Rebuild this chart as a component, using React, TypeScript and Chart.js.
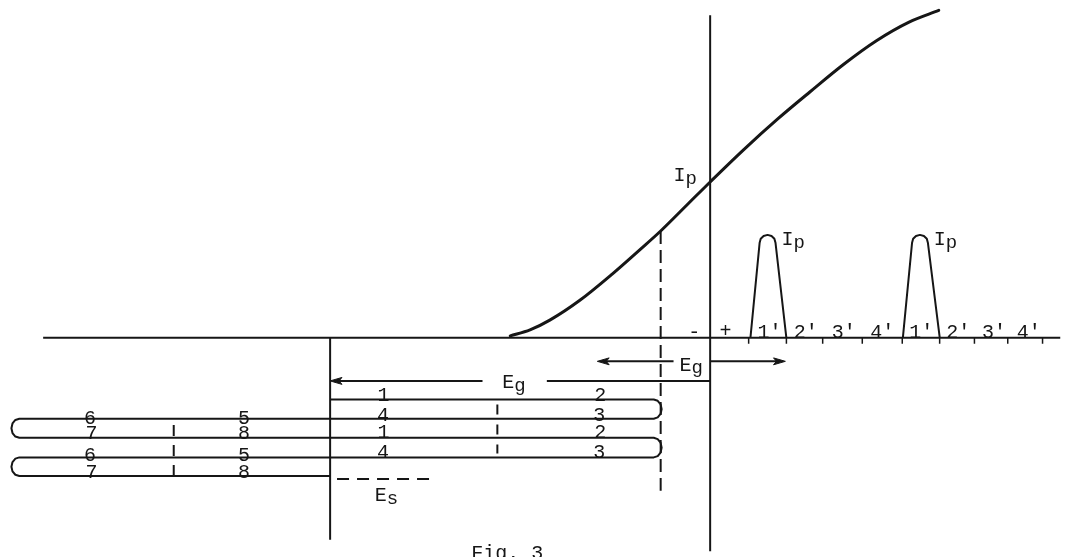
import React, { useEffect, useRef } from "react";
import { Chart, registerables } from "chart.js";

Chart.register(...registerables);

// Diagram units: x = grid-voltage steps (1 unit = one tick step), y = plate-current units
const X_MIN = -19.037;
const X_MAX = 9.465;
const Y_MIN = -5.829;
const Y_MAX = 9.064;

const INK = "#161616";

// Ip vs Eg characteristic curve
const curveGrid = [-5.401, -4.866, -4.332, -3.529, -2.647, -1.925, -1.337, -0.588, 0, 0.909, 1.818, 2.701, 3.61, 4.492, 5.374, 6.176];
const curvePlate = [0.053, 0.214, 0.481, 1.016, 1.738, 2.38, 2.914, 3.663, 4.251, 5.134, 5.963, 6.711, 7.46, 8.102, 8.61, 8.93];

// Plate-current pulses
const pulse1X = [1.088, 1.337, 1.366, 1.444, 1.551, 1.658, 1.735, 1.765, 2.059];
const pulse1Y = [0, 2.594, 2.701, 2.778, 2.807, 2.778, 2.701, 2.594, 0];
const pulse2X = [5.206, 5.455, 5.484, 5.561, 5.668, 5.775, 5.853, 5.882, 6.203];
const pulse2Y = [0, 2.594, 2.701, 2.778, 2.807, 2.778, 2.701, 2.594, 0];

// Time ticks on the axis (1' 2' 3' 4' 1' 2' 3' 4')
const tickX = [1.04, 2.06, 3.04, 4.11, 5.19, 6.2, 7.14, 8.04, 8.98];
const tickY = [-0.08, -0.08, -0.08, -0.08, -0.08, -0.08, -0.08, -0.08, -0.08];

// Sweep path (serpentine)
const loopX = [
  -10.267,
  -1.524, -1.417, -1.339, -1.31, -1.339, -1.417, -1.524,
  -18.663, -18.77, -18.848, -18.877, -18.848, -18.77, -18.663,
  -1.524, -1.417, -1.339, -1.31, -1.339, -1.417, -1.524,
  -18.663, -18.77, -18.848, -18.877, -18.848, -18.77, -18.663,
  -10.267,
];
const loopY = [
  -1.684,
  -1.684, -1.719, -1.814, -1.945, -2.076, -2.171, -2.206,
  -2.206, -2.241, -2.336, -2.467, -2.598, -2.693, -2.727,
  -2.727, -2.763, -2.861, -2.995, -3.129, -3.227, -3.262,
  -3.262, -3.296, -3.389, -3.516, -3.643, -3.736, -3.77,
  -3.77,
];

// Axes and straight lines
const hAxisX = [-18.02, 9.465];
const hAxisY = [0, 0];
const vAxisX = [0, 0];
const vAxisY = [8.797, -5.829];
const esLineX = [-10.267, -10.267];
const esLineY = [0, -5.508];

// Dashed lines
const dashOpX = [-1.337, -1.337];
const dashOpY = [2.914, -4.171];
const dashMidX = [-5.749, -5.749];
const dashMidY = [-1.818, -3.155];
const dashLeftX = [-14.492, -14.492];
const dashLeftY = [-2.38, -3.743];
const esDashX = [-10.08, -7.54];
const esDashY = [-3.85, -3.85];

// Eg arrows
const egUpLeftX = [-0.989, -2.85];
const egUpLeftY = [-0.642, -0.642];
const egUpRightX = [0, 1.84];
const egUpRightY = [-0.642, -0.642];
const egLowLeftX = [-6.15, -10.07];
const egLowLeftY = [-1.176, -1.176];
const egLowRightX = [-4.412, 0];
const egLowRightY = [-1.176, -1.176];

const headUpLeftX = [-3.048, -2.728, -2.808, -2.728, -3.048];
const headUpLeftY = [-0.642, -0.548, -0.642, -0.736, -0.642];
const headUpRightX = [2.032, 1.712, 1.792, 1.712, 2.032];
const headUpRightY = [-0.642, -0.548, -0.642, -0.736, -0.642];
const headLowX = [-10.267, -9.947, -10.027, -9.947, -10.267];
const headLowY = [-1.176, -1.082, -1.176, -1.27, -1.176];

// Labels on the main axis
const axisText = ["-", "+", "1'", "2'", "3'", "4'", "1'", "2'", "3'", "4'"];
const axisTextX = [-0.428, 0.414, 1.6, 2.58, 3.61, 4.65, 5.7, 6.7, 7.67, 8.61];
const axisTextY = [0.241, 0.267, 0.254, 0.254, 0.254, 0.254, 0.254, 0.254, 0.254, 0.254];

// Labels on the sweep path
const loopText = ["1", "2", "4", "3", "1", "2", "4", "3", "6", "5", "7", "8", "6", "5", "7", "8"];
const loopTextX = [-8.824, -2.968, -8.837, -2.995, -8.824, -2.968, -8.837, -2.995, -16.751, -12.594, -16.711, -12.594, -16.751, -12.594, -16.711, -12.594];
const loopTextY = [-1.471, -1.471, -2.005, -2.005, -2.487, -2.487, -3.035, -3.035, -2.086, -2.086, -2.5, -2.5, -3.102, -3.102, -3.583, -3.583];

// Symbols with subscripts
const symMain = ["I", "I", "I", "E", "E", "E"];
const symSub = ["p", "p", "p", "g", "g", "s"];
const symX = [-0.99, 1.925, 6.043, -0.829, -5.615, -9.064];
const symY = [4.519, 2.781, 2.781, -0.642, -1.123, -4.198];

const captionText = "Fig. 3";
const captionX = -5.48;
const captionY = -5.79;

const FONT = '20px "Liberation Mono", "Courier New", monospace';
const SUB_FONT = '19px "Liberation Mono", "Courier New", monospace';
const TEXT_DY = 4; // visual centring of glyphs on the 'middle' baseline

const pts = (xs: number[], ys: number[]) => xs.map((x, i) => ({ x, y: ys[i] }));

const lineDs = (xs: number[], ys: number[], width: number, extra: any = {}) => ({
  data: pts(xs, ys),
  showLine: true,
  borderColor: INK,
  backgroundColor: INK,
  borderWidth: width,
  pointRadius: 0,
  tension: 0,
  fill: false,
  borderCapStyle: "butt",
  ...extra,
});

const labelPlugin = {
  id: "diagramLabels",
  afterDatasetsDraw(chart: any) {
    const { ctx } = chart;
    const sx = chart.scales.x;
    const sy = chart.scales.y;
    ctx.save();
    ctx.fillStyle = INK;
    ctx.font = FONT;
    ctx.textAlign = "center";
    ctx.textBaseline = "middle";
    axisText.forEach((t, i) => {
      ctx.fillText(t, sx.getPixelForValue(axisTextX[i]), sy.getPixelForValue(axisTextY[i]) + TEXT_DY);
    });
    loopText.forEach((t, i) => {
      ctx.fillText(t, sx.getPixelForValue(loopTextX[i]), sy.getPixelForValue(loopTextY[i]) + TEXT_DY);
    });
    ctx.fillText(captionText, sx.getPixelForValue(captionX), sy.getPixelForValue(captionY) + TEXT_DY);
    ctx.textAlign = "left";
    symMain.forEach((t, i) => {
      const px = sx.getPixelForValue(symX[i]);
      const py = sy.getPixelForValue(symY[i]) + TEXT_DY;
      ctx.font = FONT;
      ctx.fillText(t, px, py);
      const w = ctx.measureText(t).width;
      ctx.font = SUB_FONT;
      ctx.fillText(symSub[i], px + w, py + 3);
    });
    ctx.restore();
  },
};

export default function App() {
  const ref = useRef<HTMLCanvasElement | null>(null);

  useEffect(() => {
    if (!ref.current) return;
    const datasets: any[] = [
      lineDs(hAxisX, hAxisY, 2),
      lineDs(vAxisX, vAxisY, 2),
      lineDs(esLineX, esLineY, 2),
      lineDs(curveGrid, curvePlate, 3, { cubicInterpolationMode: "monotone", borderCapStyle: "round" }),
      lineDs(pulse1X, pulse1Y, 2, { borderJoinStyle: "round" }),
      lineDs(pulse2X, pulse2Y, 2, { borderJoinStyle: "round" }),
      {
        data: pts(tickX, tickY),
        showLine: false,
        pointStyle: "line",
        rotation: 90,
        pointRadius: 3,
        borderColor: INK,
        borderWidth: 1.5,
        backgroundColor: INK,
      },
      lineDs(loopX, loopY, 2, { borderJoinStyle: "round" }),
      lineDs(dashOpX, dashOpY, 2, { borderDash: [13, 6] }),
      lineDs(dashMidX, dashMidY, 2, { borderDash: [10, 10] }),
      lineDs(dashLeftX, dashLeftY, 2, { borderDash: [11, 9] }),
      lineDs(esDashX, esDashY, 2, { borderDash: [12, 8] }),
      lineDs(egUpLeftX, egUpLeftY, 2),
      lineDs(egUpRightX, egUpRightY, 2),
      lineDs(egLowLeftX, egLowLeftY, 2),
      lineDs(egLowRightX, egLowRightY, 2),
      lineDs(headUpLeftX, headUpLeftY, 1, { fill: "shape" }),
      lineDs(headUpRightX, headUpRightY, 1, { fill: "shape" }),
      lineDs(headLowX, headLowY, 1, { fill: "shape" }),
    ];

    const chart = new Chart(ref.current, {
      type: "scatter",
      data: { datasets },
      options: {
        animation: false,
        responsive: false,
        maintainAspectRatio: false,
        devicePixelRatio: 1,
        events: [],
        layout: { padding: 0 },
        plugins: {
          legend: { display: false },
          tooltip: { enabled: false },
          title: { display: false },
        },
        scales: {
          x: { type: "linear", display: false, min: X_MIN, max: X_MAX },
          y: { type: "linear", display: false, min: Y_MIN, max: Y_MAX },
        },
      },
      plugins: [labelPlugin],
    } as any);

    return () => chart.destroy();
  }, []);

  return (
    <div style={{ position: "fixed", left: 0, top: 0, width: 1066, height: 557, background: "#ffffff" }}>
      <canvas ref={ref} width={1066} height={557} style={{ display: "block", width: 1066, height: 557 }} />
    </div>
  );
}
